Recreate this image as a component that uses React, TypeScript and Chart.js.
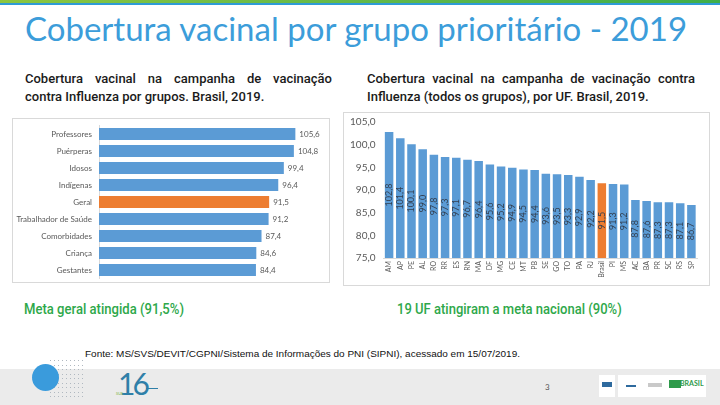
import React, { useEffect, useRef } from "react";
import { Chart, registerables } from "chart.js";

Chart.register(...registerables);

const groupLabels = ["Professores", "Puérperas", "Idosos", "Indígenas", "Geral", "Trabalhador de Saúde", "Comorbidades", "Criança", "Gestantes"];
const groupValues = [105.6, 104.8, 99.4, 96.4, 91.5, 91.2, 87.4, 84.6, 84.4];

const ufLabels = ["AM", "AP", "PE", "AL", "RO", "RR", "ES", "RN", "MA", "DF", "MG", "CE", "MT", "PB", "SE", "GO", "TO", "PA", "RJ", "Brasil", "PI", "MS", "AC", "BA", "PR", "SC", "RS", "SP"];
const ufValues = [102.8, 101.4, 100.1, 99.0, 97.8, 97.3, 97.1, 96.7, 96.4, 95.6, 95.2, 94.9, 94.5, 94.4, 93.6, 93.5, 93.3, 92.9, 92.2, 91.5, 91.3, 91.2, 87.8, 87.6, 87.3, 87.3, 87.1, 86.7];

const BLUE = "#5B9BD5";
const ORANGE = "#ED7D31";
const fmt = (v: number) => v.toFixed(1).replace(".", ",");

function FitText(props: { text: string; font: string; width: number; style: React.CSSProperties }) {
  let scale = 1;
  try {
    const c = document.createElement("canvas").getContext("2d")!;
    c.font = props.font;
    const w = c.measureText(props.text).width;
    if (w > 0) scale = props.width / w;
  } catch (e) {}
  return (
    <div
      style={{
        ...props.style,
        font: props.font,
        whiteSpace: "nowrap",
        transform: `scaleX(${scale})`,
        transformOrigin: "left center",
      }}
    >
      {props.text}
    </div>
  );
}

function LeftChart() {
  const ref = useRef<HTMLCanvasElement>(null);
  useEffect(() => {
    const labelPlugin = {
      id: "leftLabels",
      afterDatasetsDraw(chart: any) {
        const ctx = chart.ctx;
        const meta = chart.getDatasetMeta(0);
        ctx.save();
        ctx.font = "8px Lato";
        ctx.fillStyle = "#595959";
        ctx.textAlign = "left";
        ctx.textBaseline = "middle";
        meta.data.forEach((bar: any, i: number) => {
          ctx.fillText(fmt(groupValues[i]), bar.x + 4, bar.y);
        });
        ctx.restore();
      },
    };
    const chart = new Chart(ref.current!, {
      type: "bar",
      data: {
        labels: groupLabels,
        datasets: [
          {
            data: groupValues,
            backgroundColor: groupLabels.map((l) => (l === "Geral" ? ORANGE : BLUE)),
            barPercentage: 0.72,
            categoryPercentage: 1,
          },
        ],
      },
      options: {
        indexAxis: "y",
        animation: false,
        responsive: false,
        maintainAspectRatio: false,
        layout: { padding: { top: 6.5, bottom: 3.5, right: 5, left: 0 } },
        plugins: { legend: { display: false }, tooltip: { enabled: false } },
        scales: {
          x: { min: 0, max: 121, display: false },
          y: {
            grid: { display: false, drawTicks: false },
            border: { display: true, color: "#D9D9D9" },
            ticks: { color: "#595959", font: { size: 8, family: "Lato" }, padding: 7 },
            afterFit(scale: any) {
              scale.width = 86;
              scale.paddingTop = 0;
              scale.paddingBottom = 0;
            },
          },
        },
      },
      plugins: [labelPlugin],
    });
    return () => chart.destroy();
  }, []);
  return <canvas ref={ref} width={316} height={163} />;
}

function RightChart() {
  const ref = useRef<HTMLCanvasElement>(null);
  useEffect(() => {
    const labelPlugin = {
      id: "rightLabels",
      afterDatasetsDraw(chart: any) {
        const ctx = chart.ctx;
        const meta = chart.getDatasetMeta(0);
        const ys = chart.scales.y;
        ctx.save();
        ctx.font = "9px Lato";
        ctx.fillStyle = "#333F50";
        ctx.textAlign = "center";
        ctx.textBaseline = "middle";
        meta.data.forEach((bar: any, i: number) => {
          const y = ys.getPixelForValue((75 + ufValues[i]) / 2);
          ctx.save();
          ctx.translate(bar.x, y);
          ctx.rotate(-Math.PI / 2);
          ctx.fillText(fmt(ufValues[i]), 0, 0);
          ctx.restore();
        });
        ctx.restore();
      },
    };
    const chart = new Chart(ref.current!, {
      type: "bar",
      data: {
        labels: ufLabels,
        datasets: [
          {
            data: ufValues,
            backgroundColor: ufLabels.map((l) => (l === "Brasil" ? ORANGE : BLUE)),
            barPercentage: 0.76,
            categoryPercentage: 1,
          },
        ],
      },
      options: {
        animation: false,
        responsive: false,
        maintainAspectRatio: false,
        layout: { padding: { top: 9, bottom: 0, right: 12, left: 0 } },
        plugins: { legend: { display: false }, tooltip: { enabled: false } },
        scales: {
          x: {
            grid: { display: false, drawTicks: false },
            border: { display: true, color: "#D9D9D9" },
            ticks: {
              color: "#595959",
              font: { size: 7, family: "Lato" },
              maxRotation: 90,
              minRotation: 90,
              autoSkip: false,
              padding: 3,
            },
            afterFit(scale: any) {
              scale.height = 27;
              scale.paddingLeft = 0;
              scale.paddingRight = 0;
            },
          },
          y: {
            min: 75,
            max: 105,
            grid: { display: false, drawTicks: false },
            border: { display: false },
            ticks: {
              stepSize: 5,
              color: "#595959",
              font: { size: 10, family: "Lato" },
              padding: 8,
              callback: (v: any) => fmt(Number(v)),
            },
            afterFit(scale: any) {
              scale.width = 39.5;
              scale.paddingTop = 0;
              scale.paddingBottom = 0;
            },
          },
        },
      },
      plugins: [labelPlugin],
    });
    return () => chart.destroy();
  }, []);
  return <canvas ref={ref} width={365} height={172} />;
}

export default function App() {
  const abs = (x: number, y: number, extra: React.CSSProperties = {}): React.CSSProperties => ({
    position: "absolute",
    left: x,
    top: y,
    ...extra,
  });
  const subFont = "500 13px Roboto, 'Liberation Sans', sans-serif";
  const greenFont = "500 14px Roboto, 'Liberation Sans', sans-serif";
  const dots: JSX.Element[] = [];
  for (let r = 0; r < 9; r++) {
    for (let c = 0; c < 9; c++) {
      dots.push(
        <div
          key={r + "-" + c}
          style={abs(50 + c * 4, 360 + r * 4.5, { width: 1, height: 1, background: "#B0B8C0" })}
        />
      );
    }
  }
  const subLine = (x: number, y: number, w: number, text: string, justify: boolean) => (
    <div
      style={abs(x, y, {
        width: w,
        font: subFont,
        lineHeight: "18px",
        color: "#1a1a1a",
        whiteSpace: "nowrap",
        textAlign: justify ? "justify" : "left",
        textAlignLast: justify ? "justify" : "left",
      } as React.CSSProperties)}
    >
      {text}
    </div>
  );
  return (
    <div style={{ position: "absolute", left: 0, top: 0, width: 720, height: 405, background: "#fff", overflow: "hidden" }}>
      <div style={abs(0, 0, { width: 720, height: 3, background: "linear-gradient(90deg, #8CC63F, #5BB64A 60%, #3FAE49)" })} />
      <div style={abs(0, 3, { width: 720, height: 2, background: "#2E9BD6" })} />
      <div
        style={abs(25, 6, {
          fontFamily: "Lato, sans-serif",
          fontSize: 33,
          color: "#3C9DDA",
          whiteSpace: "nowrap",
          lineHeight: "44px",
        })}
      >
        Cobertura vacinal por grupo prioritário - 2019
      </div>
      {subLine(25, 70, 307, "Cobertura vacinal na campanha de vacinação", true)}
      {subLine(25, 88, 307, "contra Influenza por grupos. Brasil, 2019.", false)}
      {subLine(367, 70, 328, "Cobertura vacinal na campanha de vacinação contra", true)}
      {subLine(367, 88, 328, "Influenza (todos os grupos), por UF. Brasil, 2019.", false)}
      <div style={abs(12, 118, { width: 316, height: 163, border: "1px solid #D9D9D9" })}>
        <LeftChart />
      </div>
      <div style={abs(343, 112, { width: 365, height: 172, border: "1px solid #D9D9D9" })}>
        <RightChart />
      </div>
      <FitText
        text="Meta geral atingida (91,5%)"
        font={greenFont}
        width={160}
        style={abs(24, 301, { color: "#2EA84A", lineHeight: "18px" })}
      />
      <FitText
        text="19 UF atingiram a meta nacional  (90%)"
        font={greenFont}
        width={228}
        style={abs(397, 301, { color: "#2EA84A", lineHeight: "18px", whiteSpace: "pre" })}
      />
      <div style={abs(0, 369, { width: 720, height: 36, background: "#EBEBEB" })} />
      <FitText
        text="Fonte: MS/SVS/DEVIT/CGPNI/Sistema de Informações do PNI (SIPNI), acessado em 15/07/2019."
        font="9px 'Liberation Sans', Arial, sans-serif"
        width={435}
        style={abs(85, 349, { color: "#111", lineHeight: "12px" })}
      />
      {dots}
      <div style={abs(32, 364, { width: 27, height: 27, borderRadius: "50%", background: "#3A9BDC" })} />
      <div
        style={abs(118, 368, {
          fontFamily: "Lato, sans-serif",
          fontSize: 30,
          lineHeight: "30px",
          color: "#2F7FA8",
          letterSpacing: -3,
        })}
      >
        16
      </div>
      <div style={abs(116, 391, { fontSize: 4, color: "#7AB648", fontFamily: "Lato" })}>SUS</div>
      <div style={abs(146, 388, { width: 12, height: 1, background: "#2F7FA8" })} />
      <div style={abs(545, 382, { fontSize: 8, color: "#555", fontFamily: "Lato" })}>3</div>
      <div style={abs(599, 375, { width: 16, height: 22, background: "#fff" })} />
      <div style={abs(602, 382, { width: 10, height: 5, background: "#2E6A9E" })} />
      <div style={abs(618, 375, { width: 88, height: 22, background: "#fff" })} />
      <div style={abs(626, 385, { width: 10, height: 2, background: "#2E6A9E" })} />
      <div style={abs(648, 383, { width: 14, height: 4, background: "#C9C9C9" })} />
      <div style={abs(669, 380, { width: 12, height: 8, background: "#2E9A4A" })} />
      <div style={abs(680, 379, { fontSize: 7, color: "#2E9A4A", fontFamily: "Lato", fontWeight: 700 })}>BRASIL</div>
    </div>
  );
}
